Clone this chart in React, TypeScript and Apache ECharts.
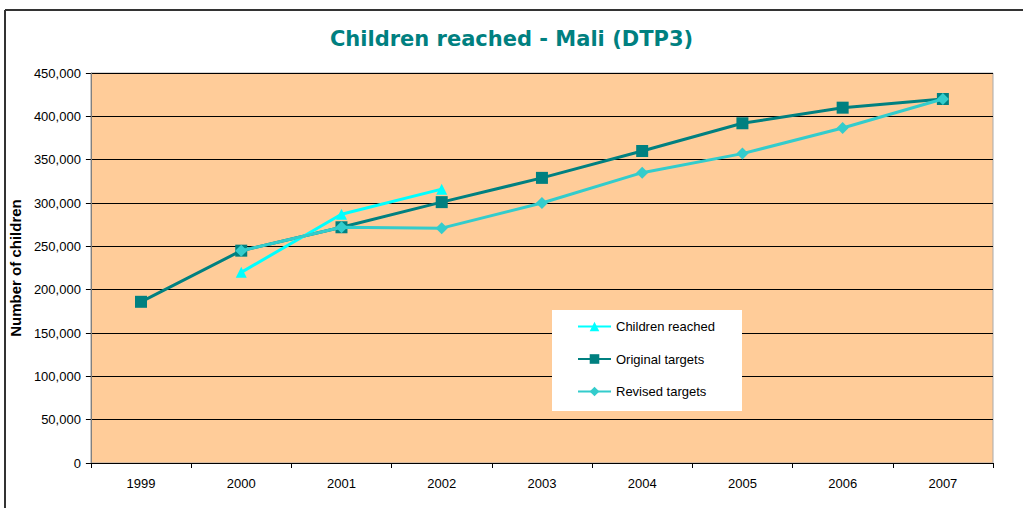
import React, { useEffect, useRef } from "react";
import * as echarts from "echarts";

const years = ["1999", "2000", "2001", "2002", "2003", "2004", "2005", "2006", "2007"];
const childrenReached = [null, 220000, 287000, 316000, null, null, null, null, null];
const originalTargets = [186000, 245000, 272000, 301000, 329000, 360000, 392000, 410000, 420000];
const revisedTargets = [null, 245000, 272000, 271000, 300000, 335000, 357000, 386500, 420000];

export default function App() {
  const ref = useRef<HTMLDivElement>(null);
  useEffect(() => {
    if (!ref.current) return;
    const chart = echarts.init(ref.current, undefined, { renderer: "svg" });
    const font = "Liberation Sans";
    chart.setOption({
      animation: false,
      backgroundColor: "#ffffff",
      title: {
        text: "Children reached - Mali (DTP3)",
        left: "center",
        top: 23,
        textStyle: { color: "#008080", fontFamily: "DejaVu Sans", fontWeight: "bold", fontSize: 21 },
      },
      graphic: [
        { type: "line", shape: { x1: 5, y1: 10, x2: 1023, y2: 10 }, style: { stroke: "#333", lineWidth: 2 } },
        { type: "line", shape: { x1: 5, y1: 10, x2: 5, y2: 508 }, style: { stroke: "#333", lineWidth: 2 } },
        { type: "rect", z: 10, shape: { x: 552, y: 310, width: 190, height: 101 }, style: { fill: "#ffffff" } },
      ],
      legend: {
        orient: "vertical",
        left: 577,
        top: 320,
        z: 11,
        padding: 0,
        itemGap: 19.5,
        itemWidth: 33,
        itemHeight: 12,
        textStyle: { fontFamily: font, fontSize: 13, color: "#000" },
        data: ["Children reached", "Original targets", "Revised targets"],
      },
      grid: { left: 90, right: 30, top: 73, bottom: 45, show: true, backgroundColor: "#FFCC99", borderColor: "#aaaaaa", borderWidth: 1 },
      xAxis: {
        type: "category",
        data: years,
        boundaryGap: true,
        axisLine: { lineStyle: { color: "#000" } },
        axisTick: { show: true, alignWithLabel: false, length: 5, lineStyle: { color: "#000" } },
        axisLabel: { fontFamily: font, fontSize: 13, color: "#000", margin: 14 },
        splitLine: { show: false },
      },
      yAxis: {
        type: "value",
        min: 0,
        max: 450000,
        interval: 50000,
        name: "Number of children",
        nameLocation: "middle",
        nameGap: 63,
        nameTextStyle: { fontFamily: font, fontSize: 15, fontWeight: "bold", color: "#000" },
        axisLine: { show: true, lineStyle: { color: "#808080" } },
        axisTick: { show: true, length: 5, lineStyle: { color: "#000" } },
        axisLabel: {
          fontFamily: font,
          fontSize: 13,
          color: "#000",
          margin: 10,
          formatter: (v: number) => v.toLocaleString("en-US"),
        },
        splitLine: { show: true, lineStyle: { color: "#000", width: 1 } },
      },
      series: [
        {
          name: "Children reached",
          type: "line",
          data: childrenReached,
          color: "#00FFFF",
          symbol: "triangle",
          symbolSize: 11,
          lineStyle: { width: 3, color: "#00FFFF" },
          itemStyle: { color: "#00FFFF" },
          z: 3,
        },
        {
          name: "Original targets",
          type: "line",
          data: originalTargets,
          color: "#008080",
          symbol: "rect",
          symbolSize: 12,
          lineStyle: { width: 3, color: "#008080" },
          itemStyle: { color: "#008080" },
          z: 2,
        },
        {
          name: "Revised targets",
          type: "line",
          data: revisedTargets,
          color: "#33CCCC",
          symbol: "diamond",
          symbolSize: 12,
          lineStyle: { width: 3, color: "#33CCCC" },
          itemStyle: { color: "#33CCCC" },
          z: 4,
        },
      ],
    });
    return () => chart.dispose();
  }, []);
  return <div ref={ref} style={{ position: "fixed", left: 0, top: 0, width: 1023, height: 508 }} />;
}
